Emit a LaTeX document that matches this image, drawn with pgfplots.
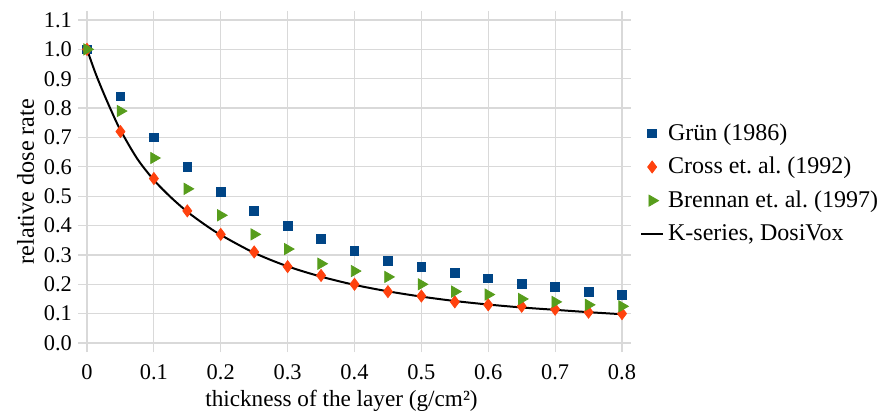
\documentclass[border=0pt]{standalone}
\usepackage{fontspec}
\setmainfont{Liberation Serif}
\usepackage{pgfplots}
\pgfplotsset{compat=1.18}
\definecolor{cblue}{HTML}{004586}
\definecolor{corange}{HTML}{FF420E}
\definecolor{cgreen}{HTML}{579D1C}
\definecolor{cgrid}{HTML}{D9D9D9}
\frenchspacing
\begin{document}
\begin{tikzpicture}[x=1pt,y=1pt]
\useasboundingbox (0,0) rectangle (438.5,206);
\begin{axis}[
  at={(43.5pt,34.5pt)}, anchor=south west,
  scale only axis, width=267.5pt, height=161.5pt,
  xmin=0, xmax=0.8, ymin=0, ymax=1.1,
  xtick={0,0.1,0.2,0.3,0.4,0.5,0.6,0.7,0.8},
  xticklabels={0,0.1,0.2,0.3,0.4,0.5,0.6,0.7,0.8},
  ytick={0,0.1,0.2,0.3,0.4,0.5,0.6,0.7,0.8,0.9,1.0,1.1},
  yticklabels={0.0,0.1,0.2,0.3,0.4,0.5,0.6,0.7,0.8,0.9,1.0,1.1},
  axis line style={draw=none},
  grid=major,
  major grid style={cgrid, line width=0.6pt},
  tick style={cgrid, line width=0.6pt},
  tick align=outside,
  major tick length=4.5pt,
  ticklabel style={font=\fontsize{11.2}{13}\selectfont},
  xticklabel style={yshift=-3pt},
  yticklabel style={xshift=0.5pt},
  xlabel={thickness of the layer (g/cm²)},
  ylabel={relative dose rate},
  xlabel style={font=\fontsize{11.6}{14}\selectfont, yshift=2pt, xshift=-6.5pt},
  ylabel style={font=\fontsize{12.1}{14}\selectfont, yshift=-2pt},
  clip=false,
  legend style={draw=none, fill=none, at={(1.022,0.494)}, anchor=west,
    font=\fontsize{12}{14}\selectfont, row sep=3pt, column sep=0pt},
  legend cell align=left,
]
\addplot[only marks, mark=square*, mark size=2.2pt, color=cblue] coordinates {
(0,1.0)(0.05,0.84)(0.1,0.70)(0.15,0.60)(0.2,0.515)(0.25,0.45)(0.3,0.40)(0.35,0.355)(0.4,0.315)
(0.45,0.28)(0.5,0.26)(0.55,0.24)(0.6,0.22)(0.65,0.20)(0.7,0.19)(0.75,0.175)(0.8,0.165)};
\addlegendentry{Grün (1986)}
\addplot[only marks, mark=diamond*, mark size=3pt, color=corange] coordinates {
(0,1.0)(0.05,0.72)(0.1,0.56)(0.15,0.45)(0.2,0.37)(0.25,0.31)(0.3,0.26)(0.35,0.23)(0.4,0.20)
(0.45,0.175)(0.5,0.16)(0.55,0.14)(0.6,0.13)(0.65,0.125)(0.7,0.115)(0.75,0.105)(0.8,0.10)};
\addlegendentry{Cross et. al. (1992)}
\addplot[only marks, mark=triangle*, mark options={rotate=-90}, mark size=3.2pt, color=cgreen] coordinates {
(0,1.0)(0.05,0.79)(0.1,0.63)(0.15,0.525)(0.2,0.435)(0.25,0.37)(0.3,0.32)(0.35,0.27)(0.4,0.245)
(0.45,0.225)(0.5,0.20)(0.55,0.175)(0.6,0.165)(0.65,0.15)(0.7,0.14)(0.75,0.13)(0.8,0.125)};
\addlegendentry{Brennan et. al. (1997)}
\addplot[black, line width=1pt, smooth, no marks,
  legend image code/.code={\draw[line width=1pt] (0.3cm-5.5pt,0cm) -- (0.3cm+5.5pt,0cm);}] coordinates {
(0,1.0)(0.0125,0.92)(0.025,0.85)(0.0375,0.785)(0.05,0.725)(0.075,0.628)(0.1,0.555)(0.125,0.497)
(0.15,0.447)(0.175,0.405)(0.2,0.368)(0.25,0.307)(0.3,0.261)(0.35,0.226)(0.4,0.198)(0.45,0.176)
(0.5,0.158)(0.55,0.143)(0.6,0.131)(0.65,0.121)(0.7,0.113)(0.75,0.105)(0.8,0.098)};
\addlegendentry{K-series, DosiVox}
\end{axis}
\end{tikzpicture}
\end{document}
